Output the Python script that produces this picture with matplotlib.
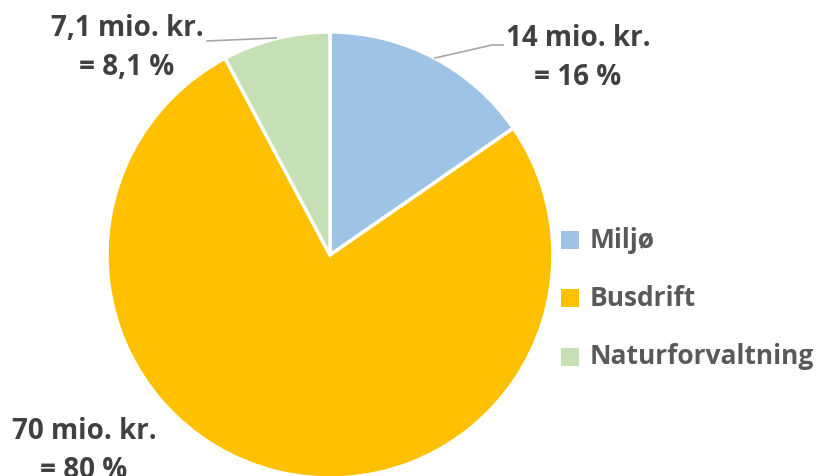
import matplotlib
matplotlib.use('Agg')
import matplotlib.pyplot as plt

categories = ['Miljø', 'Busdrift', 'Naturforvaltning']
values = [14, 70, 7.1]
labels = ['14 mio. kr.\n= 16 %', '70 mio. kr.\n= 80 %', '7,1 mio. kr.\n= 8,1 %']
colors = ['#9DC3E6', '#FFC000', '#C5E0B4']

W, H = 821, 476
CX, CY, R = 330, H - 255, 223
LABEL_POS = [(578, H - 58), (84, H - 451), (127, H - 48)]
LEADERS = {0: [(435, H - 58), (492, H - 45), (503, H - 45)],
           2: [(276, H - 38), (207, H - 41)]}
LEG_X, LEG_Y = 570, [H - 240, H - 298, H - 357]

LABEL_INK, LEG_INK, LINE = '#404040', '#595959', '#A6A6A6'
plt.rcParams['font.family'] = ['Open Sans', 'DejaVu Sans']

fig = plt.figure(figsize=(W / 100, H / 100), dpi=100)
ax = fig.add_axes([0, 0, 1, 1])

ax.pie(values, colors=colors, startangle=90, counterclock=False,
       center=(CX, CY), radius=R, frame=True,
       wedgeprops=dict(edgecolor='white', linewidth=2.5))
ax.set_xlim(0, W)
ax.set_ylim(0, H)
ax.set_aspect('equal')
ax.axis('off')

for txt, (x, y) in zip(labels, LABEL_POS):
    ax.text(x, y, txt, ha='center', va='center', fontsize=20,
            fontweight='bold', color=LABEL_INK, linespacing=1.45)
for pts in LEADERS.values():
    xs, ys = zip(*pts)
    ax.plot(xs, ys, color=LINE, lw=1.2)

for name, col, y in zip(categories, colors, LEG_Y):
    ax.scatter([LEG_X], [y], marker='s', s=150, color=col, linewidths=0)
    ax.text(LEG_X + 20, y, name, ha='left', va='center', fontsize=19,
            fontweight='bold', color=LEG_INK)

fig.savefig('out.png', dpi=100)
